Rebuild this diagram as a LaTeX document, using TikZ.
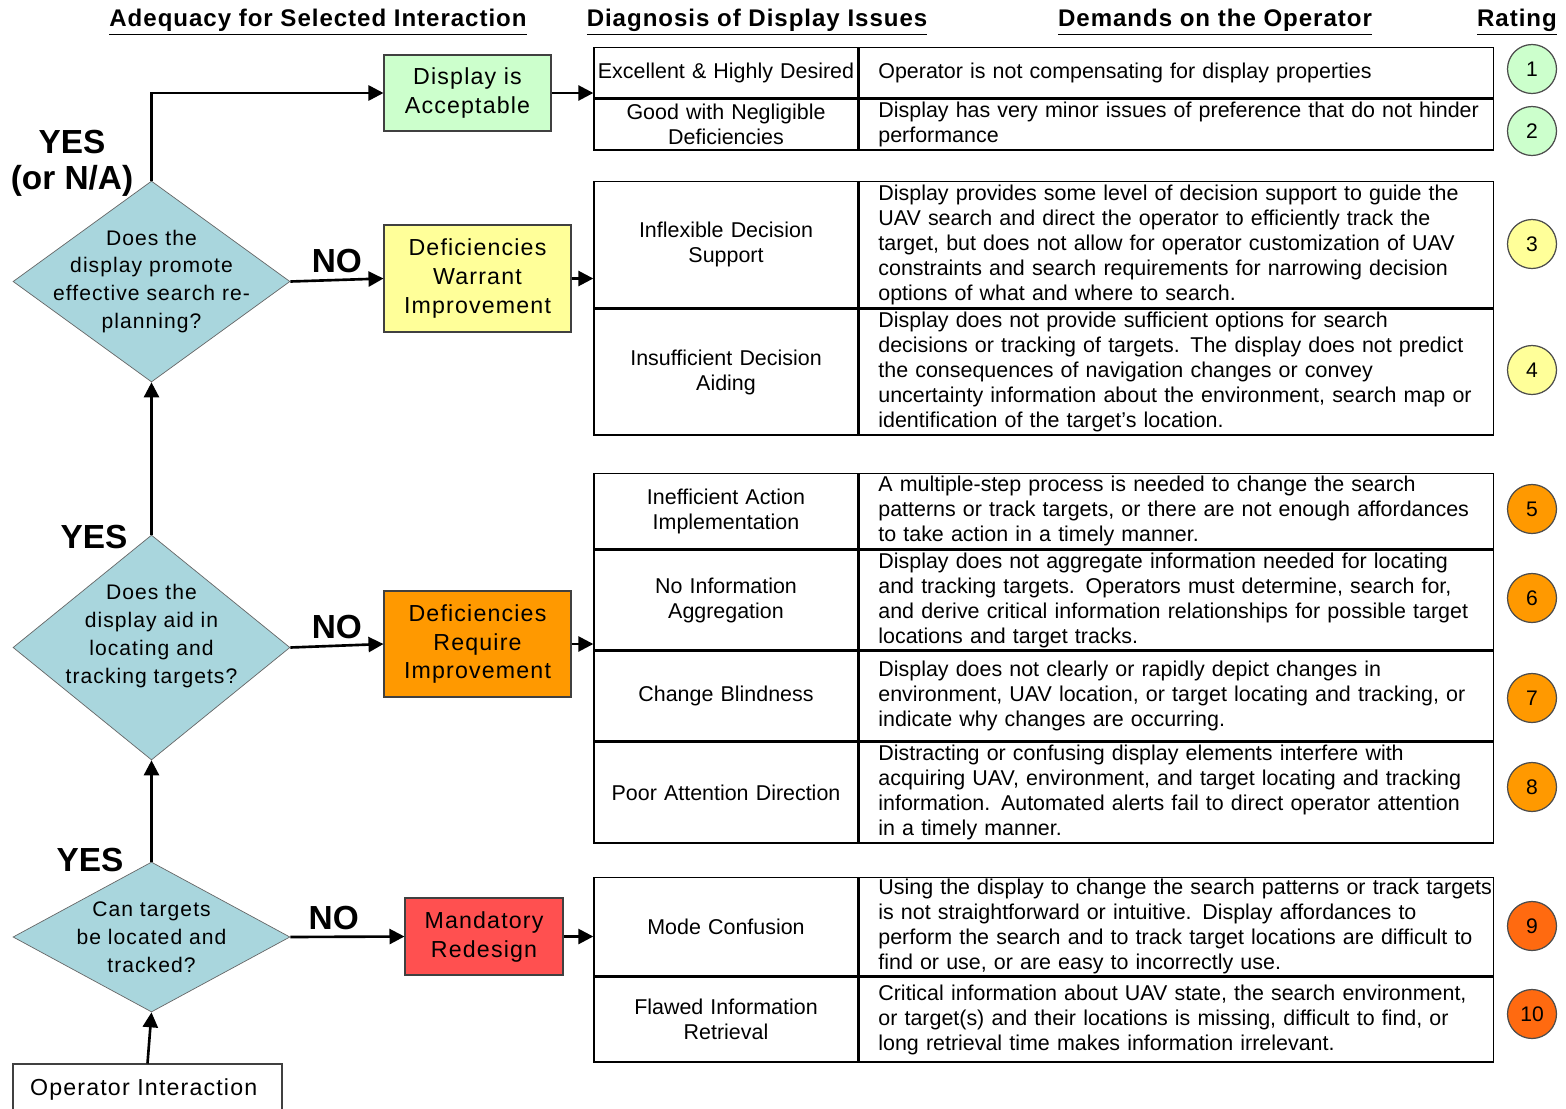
\documentclass[tikz,border=0pt]{standalone}
\usepackage{fontspec}
\setmainfont{Liberation Sans}
\newfontfamily\spacedfont[LetterSpace=5]{Liberation Sans}
\newfontfamily\headfont[LetterSpace=4]{Liberation Sans}
\usetikzlibrary{shapes.geometric,arrows.meta,positioning}
\definecolor{okgreen}{HTML}{CCFFCC}
\definecolor{warnyellow}{HTML}{FFFF99}
\definecolor{reqorange}{HTML}{FF9900}
\definecolor{redesignred}{HTML}{FF5050}
\definecolor{rateorange}{HTML}{FF6A10}
\definecolor{askblue}{HTML}{A9D6DD}

\begin{document}
\begin{tikzpicture}[
    x=0.02cm, y=-0.02cm,
    colhead/.style={
        font=\headfont\bfseries\fontsize{13.7}{16}\selectfont
    },
    decision/.style={
        diamond,
        draw=black!60,
        fill=askblue,
        minimum width=5.54cm,
        inner sep=-0.5cm,
        align=center,
        font=\spacedfont\fontsize{12}{15.9}\selectfont
    },
    outcome/.style={
        rectangle,
        draw=black!75,
        line width=0.6pt,
        align=center,
        inner sep=0pt,
        font=\spacedfont\fontsize{13.2}{16.5}\selectfont
    },
    answer/.style={
        align=center,
        font=\bfseries\fontsize{19}{20.5}\selectfont
    },
    diagcell/.style={
        rectangle,
        draw,
        line width=0.8pt,
        text width=5.24cm,
        inner xsep=0.02cm,
        inner ysep=0pt,
        align=center,
        font=\fontsize{12.2}{14.2}\selectfont
    },
    demcell/.style={
        rectangle,
        draw,
        line width=0.8pt,
        text width=12.64cm,
        inner xsep=0.02cm,
        inner ysep=0pt,
        align=left,
        font=\fontsize{12.2}{14.2}\selectfont,
        execute at begin node={\leftskip=0.36cm}
    },
    rating/.style={
        circle,
        draw=black!70,
        line width=0.7pt,
        minimum size=0.98cm,
        inner sep=0pt,
        font=\fontsize{12}{14}\selectfont
    },
    flow/.style={
        -{Triangle[length=0.3cm,width=0.3cm]},
        line width=1.5pt
    }
]
\useasboundingbox (0,0) rectangle (1566,1109);

% Column headings
\node[colhead] (hadequacy) at (318, 22) {\underline{Adequacy for Selected Interaction}};
\node[colhead] (hdiagnosis) at (757, 22) {\underline{Diagnosis of Display Issues}};
\node[colhead] (hdemands) at (1215, 22) {\underline{Demands on the Operator}};
\node[colhead] (hrating) at (1517, 22) {\underline{Rating}};

% Decision chain on the left
\node[decision, minimum height=4.02cm] (d1) at (151.5, 281.5) {
    Does the\\display promote\\effective search re-\\planning?
};
\node[decision, minimum height=4.5cm] (d2) at (151.5, 647.5) {
    Does the\\display aid in\\locating and\\tracking targets?\\[0pt]\mbox{}
};
\node[decision, minimum height=3.0cm] (d3) at (151.5, 937) {
    Can targets\\be located and\\tracked?
};
\node[outcome, fill=white, minimum width=5.38cm, minimum height=1.0cm] (op) at (147.5, 1089) {
    Operator Interaction
};

% Outcome boxes
\node[outcome, fill=okgreen, minimum width=3.34cm, minimum height=1.52cm] (ok) at (467.5, 93) {
    Display is\\Acceptable
};
\node[outcome, fill=warnyellow, minimum width=3.74cm, minimum height=2.14cm] (warn) at (477.5, 278.5) {
    Deficiencies\\Warrant\\Improvement
};
\node[outcome, fill=reqorange, minimum width=3.74cm, minimum height=2.12cm] (req) at (477.5, 644) {
    Deficiencies\\Require\\Improvement
};
\node[outcome, fill=redesignred, minimum width=3.16cm, minimum height=1.54cm] (redesign) at (484, 936.5) {
    Mandatory\\Redesign
};

% YES labels
\node[answer] (yes1) at (72, 163) {YES\\(or N/A)};
\node[answer] (yes2) at (94, 537) {YES};
\node[answer] (yes3) at (90, 860) {YES};

% Flow arrows
\draw[flow] (op.north) -- (d3.south);
\draw[flow] (d3.north) -- (d2.south);
\draw[flow] (d2.north) -- (d1.south);
\draw[flow] (d1.north) |- (ok.west);
\draw[flow] (d1.east) -- node[answer, above] (no1) {NO} (warn.west);
\draw[flow] (d2.east) -- node[answer, above] (no2) {NO} (req.west);
\draw[flow] (d3.east) -- node[answer, above, pos=0.38] (no3) {NO} (redesign.west);

% Table: acceptable
\node[diagcell, minimum height=1.00cm, anchor=north] (diag1) at (726, 47) {Excellent \& Highly Desired};
\node[demcell, minimum height=1.00cm, right=0pt of diag1] (dem1) {Operator is not compensating for display properties};
\node[diagcell, minimum height=1.02cm, below=0pt of diag1] (diag2) {Good with Negligible\\Deficiencies};
\node[demcell, minimum height=1.02cm, right=0pt of diag2] (dem2) {Display has very minor issues of preference that do not hinder\\performance};

% Table: warrant improvement
\node[diagcell, minimum height=2.52cm, anchor=north] (diag3) at (726, 181) {Inflexible Decision\\Support};
\node[demcell, minimum height=2.52cm, right=0pt of diag3] (dem3) {Display provides some level of decision support to guide the\\UAV search and direct the operator to efficiently track the\\target, but does not allow for operator customization of UAV\\constraints and search requirements for narrowing decision\\options of what and where to search.};
\node[diagcell, minimum height=2.52cm, below=0pt of diag3] (diag4) {Insufficient Decision\\Aiding};
\node[demcell, minimum height=2.52cm, right=0pt of diag4] (dem4) {Display does not provide sufficient options for search\\decisions or tracking of targets.  The display does not predict\\the consequences of navigation  changes or convey\\uncertainty information about the environment, search map or\\identification of the target's location.};

% Table: require improvement
\node[diagcell, minimum height=1.50cm, anchor=north] (diag5) at (726, 473) {Inefficient Action\\Implementation};
\node[demcell, minimum height=1.50cm, right=0pt of diag5] (dem5) {A multiple-step process is needed to change the search\\patterns or track targets, or there are not enough affordances\\to take action in a timely manner.};
\node[diagcell, minimum height=2.00cm, below=0pt of diag5] (diag6) {No Information\\Aggregation};
\node[demcell, minimum height=2.00cm, right=0pt of diag6] (dem6) {Display does not aggregate information needed for locating\\and tracking targets.  Operators must determine, search for,\\and derive critical information relationships for possible target\\locations and target tracks.};
\node[diagcell, minimum height=1.78cm, below=0pt of diag6] (diag7) {Change Blindness};
\node[demcell, minimum height=1.78cm, right=0pt of diag7] (dem7) {Display does not clearly or rapidly depict changes in\\environment, UAV location, or target locating and tracking, or\\indicate why changes are occurring.};
\node[diagcell, minimum height=2.02cm, below=0pt of diag7] (diag8) {Poor Attention Direction};
\node[demcell, minimum height=2.02cm, right=0pt of diag8] (dem8) {Distracting or confusing display elements interfere with\\acquiring UAV, environment, and target locating and tracking\\information.  Automated alerts fail to direct operator attention\\in a timely manner.};

% Table: mandatory redesign
\node[diagcell, minimum height=1.96cm, anchor=north] (diag9) at (726, 877) {Mode Confusion};
\node[demcell, minimum height=1.96cm, right=0pt of diag9] (dem9) {Using the display to change the search patterns or track targets\\is not straightforward or intuitive.  Display affordances to\\perform the search and to track target locations are difficult to\\find or use, or are easy to incorrectly use.};
\node[diagcell, minimum height=1.70cm, below=0pt of diag9] (diag10) {Flawed Information\\Retrieval};
\node[demcell, minimum height=1.70cm, right=0pt of diag10] (dem10) {Critical information about UAV state, the search environment,\\or target(s) and their locations is missing, difficult to find, or\\long retrieval time makes information irrelevant.};

% Outcome boxes feed the table
\draw[flow] (ok.east) -- (ok.east -| diag1.west);
\draw[flow] (warn.east) -- (warn.east -| diag3.west);
\draw[flow] (req.east) -- (req.east -| diag5.west);
\draw[flow] (redesign.east) -- (redesign.east -| diag9.west);

% Ratings
\node[rating, fill=okgreen] (r1) at (1532, 69) {1};
\node[rating, fill=okgreen] (r2) at (1532, 131) {2};
\node[rating, fill=warnyellow] (r3) at (1532, 244) {3};
\node[rating, fill=warnyellow] (r4) at (1532, 370) {4};
\node[rating, fill=reqorange] (r5) at (1532, 509) {5};
\node[rating, fill=reqorange] (r6) at (1532, 598) {6};
\node[rating, fill=reqorange] (r7) at (1532, 698) {7};
\node[rating, fill=reqorange] (r8) at (1532, 787) {8};
\node[rating, fill=rateorange] (r9) at (1532, 926) {9};
\node[rating, fill=rateorange] (r10) at (1532, 1014) {10};

\end{tikzpicture}
\end{document}
